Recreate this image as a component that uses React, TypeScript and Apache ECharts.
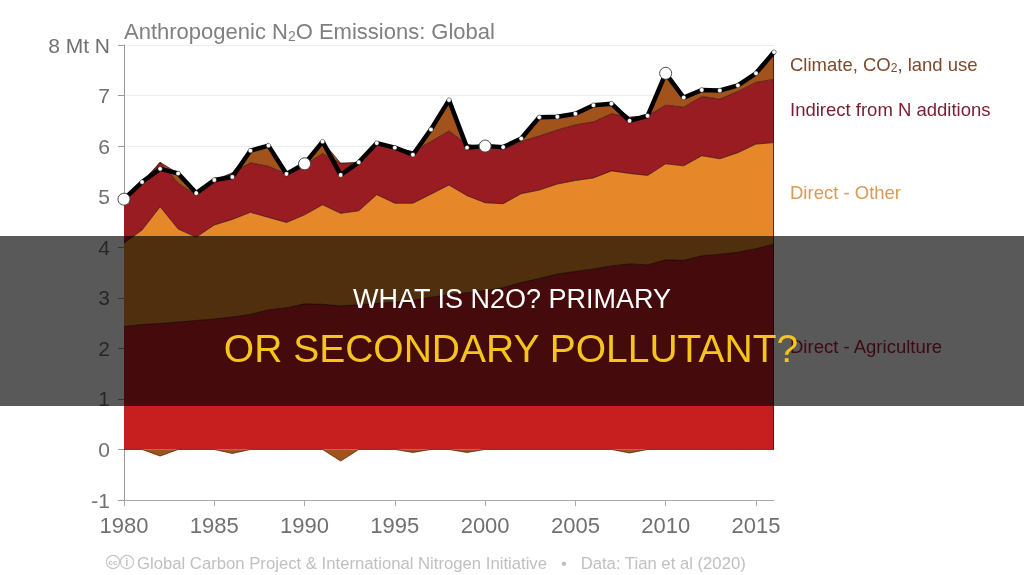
import React, { useEffect, useRef } from 'react';
import * as echarts from 'echarts';

const years = [
  '1980', '1981', '1982', '1983', '1984', '1985', '1986', '1987', '1988', '1989',
  '1990', '1991', '1992', '1993', '1994', '1995', '1996', '1997', '1998', '1999',
  '2000', '2001', '2002', '2003', '2004', '2005', '2006', '2007', '2008', '2009',
  '2010', '2011', '2012', '2013', '2014', '2015', '2016',
];

const directAgriculture = [
  2.43, 2.47, 2.49, 2.52, 2.55, 2.58, 2.62, 2.67, 2.76, 2.80,
  2.88, 2.87, 2.84, 2.86, 2.89, 2.91, 2.95, 3.01, 3.06, 3.10,
  3.14, 3.20, 3.30, 3.38, 3.47, 3.52, 3.57, 3.63, 3.67, 3.65,
  3.75, 3.74, 3.83, 3.86, 3.90, 3.97, 4.06,
];

const directOther = [
  1.65, 1.87, 2.31, 1.84, 1.65, 1.86, 1.93, 2.02, 1.83, 1.69,
  1.76, 1.97, 1.83, 1.86, 2.15, 1.96, 1.92, 2.04, 2.17, 1.92,
  1.74, 1.66, 1.76, 1.75, 1.78, 1.80, 1.80, 1.88, 1.79, 1.77,
  1.90, 1.87, 1.98, 1.89, 1.97, 2.07, 2.01,
];

const indirectN = [
  0.87, 0.89, 0.88, 0.91, 0.82, 0.83, 0.92, 0.98, 1.01, 0.96,
  0.99, 1.01, 0.99, 0.94, 0.98, 1.08, 1.02, 1.04, 1.07, 1.01,
  1.07, 1.07, 1.03, 1.07, 1.07, 1.10, 1.11, 1.13, 1.11, 1.18,
  1.16, 1.16, 1.17, 1.18, 1.21, 1.22, 1.25,
];

const climateCO2Land = [
  0.00, 0.06, -0.13, 0.19, 0.05, 0.06, -0.08, 0.24, 0.41, 0.00,
  0.02, 0.24, -0.23, 0.02, 0.04, 0.02, -0.06, 0.24, 0.61, -0.06,
  0.05, 0.05, 0.06, 0.37, 0.26, 0.22, 0.33, 0.20, -0.07, 0.00,
  0.63, 0.19, 0.13, 0.17, 0.12, 0.18, 0.54,
];

const highlightYears = ['1980', '1990', '2000', '2010'];

const FONT = '"Liberation Sans", Arial, Helvetica, sans-serif';

const COL_AG = '#c71f20';
const COL_OTHER = '#e6872a';
const COL_INDIRECT = '#981c21';
const COL_CLIMATE = '#a2531c';
const EDGE = 'rgba(45,8,8,0.75)';

export default function App() {
  const ref = useRef<HTMLDivElement>(null);

  useEffect(() => {
    if (!ref.current) return;
    const chart = echarts.init(ref.current, null, { renderer: 'svg' });

    const climatePos = climateCO2Land.map((v) => (v > 0 ? v : 0));
    const climateNeg = climateCO2Land.map((v) => (v < 0 ? v : 0));
    const total = years.map((_, i) =>
      Math.round((directAgriculture[i] + directOther[i] + indirectN[i] + climateCO2Land[i]) * 100) / 100
    );
    const totalData = total.map((v, i) =>
      highlightYears.includes(years[i])
        ? { value: v, symbolSize: 12, itemStyle: { color: '#fff', borderColor: '#444', borderWidth: 1 } }
        : v
    );

    const areaSeries = (name: string, data: number[], color: string, z: number) => ({
      name,
      type: 'line',
      stack: 'pos',
      data,
      symbol: 'none',
      z,
      lineStyle: { color: EDGE, width: 0.9 },
      areaStyle: { color, opacity: 1 },
    });

    chart.setOption({
      animation: false,
      grid: { left: 124, right: 250, top: 45, bottom: 75 },
      xAxis: {
        type: 'category',
        data: years,
        boundaryGap: false,
        axisLine: { onZero: false, lineStyle: { color: '#aaa', width: 1 } },
        axisTick: { interval: 4, length: 6, lineStyle: { color: '#aaa' } },
        axisLabel: {
          interval: 4,
          margin: 14,
          color: '#707070',
          fontSize: 22,
          fontFamily: FONT,
        },
        splitLine: { show: false },
      },
      yAxis: {
        type: 'value',
        min: -1,
        max: 8,
        interval: 1,
        axisLine: { show: true, lineStyle: { color: '#999', width: 1 } },
        axisTick: { show: true, length: 6, lineStyle: { color: '#999' } },
        axisLabel: {
          margin: 14,
          color: '#707070',
          fontSize: 21,
          fontFamily: FONT,
          formatter: (v: number) => (v === 8 ? '8 Mt N' : String(v)),
        },
        splitLine: { show: true, lineStyle: { color: '#ececec', width: 1 } },
      },
      series: [
        areaSeries('Direct - Agriculture', directAgriculture, COL_AG, 2),
        areaSeries('Direct - Other', directOther, COL_OTHER, 2),
        areaSeries('Indirect from N additions', indirectN, COL_INDIRECT, 2),
        areaSeries('Climate, CO2, land use', climatePos, COL_CLIMATE, 2),
        {
          name: 'Climate, CO2, land use (negative)',
          type: 'line',
          data: climateNeg,
          symbol: 'none',
          z: 2,
          lineStyle: { color: 'rgba(70,25,10,0.8)', width: 0.9 },
          areaStyle: { color: COL_CLIMATE, opacity: 1, origin: 0 },
        },
        {
          name: 'Total',
          type: 'line',
          data: totalData,
          z: 5,
          showAllSymbol: true,
          symbol: 'circle',
          symbolSize: 4.5,
          itemStyle: { color: '#fff', borderColor: '#111', borderWidth: 0.5 },
          lineStyle: { color: '#000', width: 4.5 },
        },
      ],
      graphic: [
        {
          type: 'text',
          x: 124,
          y: 31,
          z: 10,
          style: {
            text: 'Anthropogenic N{sub|2}O Emissions: Global',
            fill: '#808080',
            fontSize: 22,
            fontFamily: FONT,
            lineHeight: 24,
            align: 'left',
            verticalAlign: 'middle',
            rich: {
              sub: { fontSize: 14, lineHeight: 8, verticalAlign: 'bottom', fill: '#808080', fontFamily: FONT },
            },
          },
        },
        {
          type: 'text',
          x: 790,
          y: 64,
          z: 10,
          style: {
            text: 'Climate, CO{sub|2}, land use',
            fill: '#7c4a2c',
            fontSize: 18.5,
            fontFamily: FONT,
            lineHeight: 20,
            align: 'left',
            verticalAlign: 'middle',
            rich: {
              sub: { fontSize: 12, lineHeight: 6, verticalAlign: 'bottom', fill: '#7c4a2c', fontFamily: FONT },
            },
          },
        },
        {
          type: 'text',
          x: 790,
          y: 109,
          z: 10,
          style: {
            text: 'Indirect from N additions',
            fill: '#7a1c2f',
            fontSize: 18.5,
            fontFamily: FONT,
            align: 'left',
            verticalAlign: 'middle',
          },
        },
        {
          type: 'text',
          x: 790,
          y: 192,
          z: 10,
          style: {
            text: 'Direct - Other',
            fill: '#d99a55',
            fontSize: 18.5,
            fontFamily: FONT,
            align: 'left',
            verticalAlign: 'middle',
          },
        },
        {
          type: 'text',
          x: 790,
          y: 346,
          z: 10,
          style: {
            text: 'Direct - Agriculture',
            fill: '#b02035',
            fontSize: 18.5,
            fontFamily: FONT,
            align: 'left',
            verticalAlign: 'middle',
          },
        },
        {
          type: 'circle',
          z: 10,
          shape: { cx: 113, cy: 562, r: 6.5 },
          style: { fill: 'none', stroke: '#c8c8c8', lineWidth: 1.2 },
        },
        {
          type: 'text',
          x: 113,
          y: 562,
          z: 10,
          style: { text: 'cc', fill: '#c0c0c0', fontSize: 8, fontFamily: FONT, fontWeight: 'bold', align: 'center', verticalAlign: 'middle' },
        },
        {
          type: 'circle',
          z: 10,
          shape: { cx: 127, cy: 562, r: 6.5 },
          style: { fill: 'none', stroke: '#c8c8c8', lineWidth: 1.2 },
        },
        {
          type: 'text',
          x: 127,
          y: 562,
          z: 10,
          style: { text: 'i', fill: '#c0c0c0', fontSize: 10, fontFamily: FONT, fontWeight: 'bold', align: 'center', verticalAlign: 'middle' },
        },
        {
          type: 'text',
          x: 137,
          y: 563,
          z: 10,
          style: {
            text: 'Global Carbon Project & International Nitrogen Initiative   •   Data: Tian et al (2020)',
            fill: '#c0c0c0',
            fontSize: 16.7,
            fontFamily: FONT,
            align: 'left',
            verticalAlign: 'middle',
          },
        },
        {
          type: 'rect',
          z: 100,
          shape: { x: 0, y: 236, width: 1024, height: 170 },
          style: { fill: 'rgba(0,0,0,0.65)' },
        },
        {
          type: 'text',
          x: 512,
          y: 299,
          z: 101,
          style: {
            text: 'WHAT IS N2O? PRIMARY',
            fill: '#ffffff',
            fontSize: 27,
            fontFamily: FONT,
            align: 'center',
            verticalAlign: 'middle',
          },
        },
        {
          type: 'text',
          x: 511,
          y: 348,
          z: 101,
          style: {
            text: 'OR SECONDARY POLLUTANT?',
            fill: '#f5c51e',
            fontSize: 39,
            fontFamily: FONT,
            align: 'center',
            verticalAlign: 'middle',
          },
        },
      ],
    });

    // right-hand edge of the stacked areas, placed through the chart's own scales
    const last = years.length - 1;
    const bottom = chart.convertToPixel({ gridIndex: 0 }, [last, 0]) as number[];
    const top = chart.convertToPixel({ gridIndex: 0 }, [last, total[last]]) as number[];
    if (bottom && top) {
      chart.setOption({
        graphic: [
          {
            id: 'rightEdge',
            type: 'line',
            z: 4,
            shape: { x1: bottom[0] - 0.5, y1: bottom[1], x2: top[0] - 0.5, y2: top[1] },
            style: { stroke: 'rgba(60,20,10,0.8)', lineWidth: 1 },
          },
        ],
      });
    }

    return () => chart.dispose();
  }, []);

  return (
    <div
      ref={ref}
      style={{ position: 'fixed', left: 0, top: 0, width: 1024, height: 575 }}
    />
  );
}
